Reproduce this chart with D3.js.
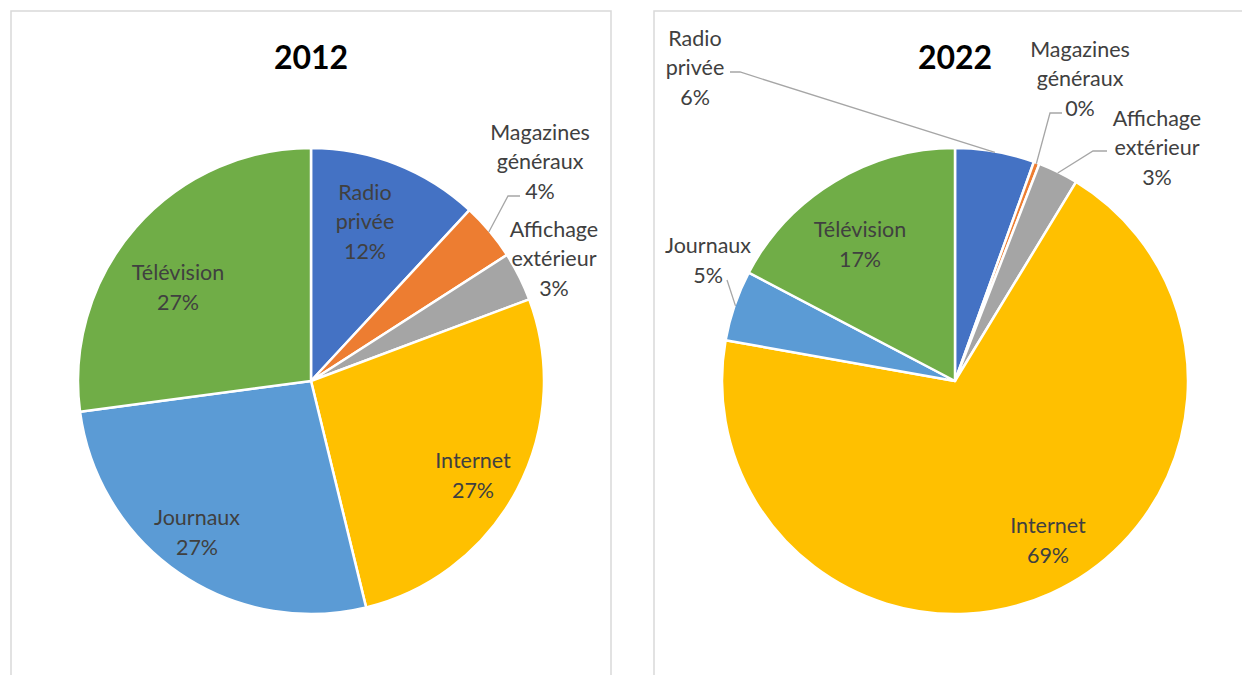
<!DOCTYPE html>
<html>
<head>
<meta charset="utf-8">
<script src="https://cdn.jsdelivr.net/npm/d3@7"></script>
<style>
  body { margin: 0; background: #fff; }
  svg { display: block; }
  .label { font-family: Lato, "Open Sans", sans-serif; font-size: 21.5px; fill: #404040; }
  .title { font-family: Lato, sans-serif; font-size: 32px; font-weight: bold; fill: #000; }
</style>
</head>
<body>
<div id="chart"></div>
<script>
// data
var categories = ["Radio privée", "Magazines généraux", "Affichage extérieur", "Internet", "Journaux", "Télévision"];
var labelLines = [["Radio", "privée"], ["Magazines", "généraux"], ["Affichage", "extérieur"], ["Internet"], ["Journaux"], ["Télévision"]];
var years = ["2012", "2022"];
var values2012 = [11.9, 4.0, 3.4, 26.9, 26.7, 27.1];
var values2022 = [5.5, 0.4, 2.8, 69.1, 4.9, 17.3];

var colors = ["#4472C4", "#ED7D31", "#A5A5A5", "#FFC000", "#5B9BD5", "#70AD47"];

// label placement, relative to pie centre (layout only)
var layout2012 = [
  {dx: 54, dy: -160},
  {dx: 229, dy: -220, leader: [[209, -185], [197, -185]]},
  {dx: 243, dy: -123},
  {dx: 162, dy: 94},
  {dx: -114, dy: 151},
  {dx: -133, dy: -94}
];
var layout2022 = [
  {dx: -260, dy: -314, leader: [[-225, -309], [-215, -309]]},
  {dx: 125, dy: -303, leader: [[107, -268], [95, -268]]},
  {dx: 202, dy: -234, leader: [[152, -230], [138, -230]]},
  {dx: 93, dy: 159},
  {dx: -247, dy: -121, leader: [[-228, -101]]},
  {dx: -95, dy: -137}
];

var width = 1242, height = 675;
var radius = 233, lineH = 29.5;

var svg = d3.select("#chart").append("svg")
  .attr("width", width)
  .attr("height", height);

var panels = [
  {year: years[0], values: values2012, layout: layout2012, x: 11, cx: 311},
  {year: years[1], values: values2022, layout: layout2022, x: 654, cx: 955}
];
var cy = 381;

var pie = d3.pie().sort(null).value(function(d){ return d; });
var arc = d3.arc().innerRadius(0).outerRadius(radius);
var fmt = d3.format(".0%");

panels.forEach(function(p){
  svg.append("rect")
    .attr("x", p.x).attr("y", 11)
    .attr("width", 600).attr("height", 700)
    .attr("fill", "none")
    .attr("stroke", "#D9D9D9")
    .attr("stroke-width", 1.5);

  var g = svg.append("g")
    .attr("transform", "translate(" + p.cx + "," + cy + ")");

  var total = d3.sum(p.values);
  var arcs = pie(p.values);

  g.selectAll(".slice")
      .data(arcs)
    .enter().append("path")
      .attr("class", "slice")
      .attr("d", arc)
      .attr("fill", function(d, i){ return colors[i]; })
      .attr("stroke", "#fff")
      .attr("stroke-width", 2.5)
      .attr("stroke-linejoin", "round");

  // leader lines
  arcs.forEach(function(d, i){
    var lay = p.layout[i];
    if (!lay.leader) return;
    var mid = (d.startAngle + d.endAngle) / 2;
    var end = [Math.sin(mid) * (radius - 1), -Math.cos(mid) * (radius - 1)];
    var pts = lay.leader.concat([end]);
    g.append("path")
      .attr("d", d3.line()(pts))
      .attr("fill", "none")
      .attr("stroke", "#A6A6A6")
      .attr("stroke-width", 1.3);
  });

  // labels
  arcs.forEach(function(d, i){
    var lay = p.layout[i];
    var lines = labelLines[i].concat([fmt(p.values[i] / total)]);
    var t = g.append("text")
      .attr("class", "label")
      .attr("text-anchor", "middle")
      .attr("dominant-baseline", "central");
    lines.forEach(function(s, k){
      t.append("tspan")
        .attr("x", lay.dx)
        .attr("y", lay.dy + (k - (lines.length - 1) / 2) * lineH)
        .text(s);
    });
  });

  svg.append("text")
    .attr("class", "title")
    .attr("x", p.cx)
    .attr("y", 56)
    .attr("text-anchor", "middle")
    .attr("dominant-baseline", "central")
    .text(p.year);
});
</script>
</body>
</html>
